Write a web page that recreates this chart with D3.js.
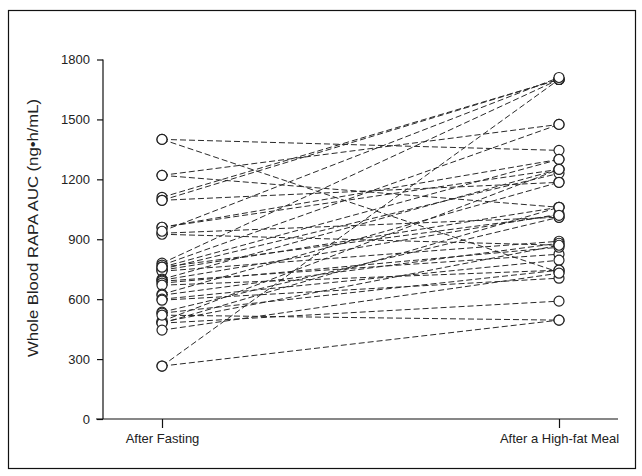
<!DOCTYPE html>
<html>
<head>
<meta charset="utf-8">
<script src="https://cdn.jsdelivr.net/npm/d3@7"></script>
<style>
  body { margin: 0; background: #fff; }
  text { font-family: "Liberation Sans", Arial, sans-serif; fill: #222; }
</style>
</head>
<body>
<div id="chart"></div>
<script>
// categories on the x axis
var categories = ["After Fasting", "After a High-fat Meal"];

// y axis ticks
var yTicks = [0, 300, 600, 900, 1200, 1500, 1800];

// each subject: AUC after fasting and after the high-fat meal (ng*h/mL)
var fasting = [1400, 1400, 1220, 1220, 1110, 1095, 1095, 960, 960, 930,
               925, 780, 770, 760, 750, 745, 740, 700, 695, 690,
               680, 670, 625, 620, 600, 595, 535, 530, 490, 485,
               480, 480, 445, 265, 265, 520, 940, 760];
var highFat = [1345, 735, 1475, 1060, 1700, 1700, 1185, 1300, 1250, 1010,
               870, 1700, 1475, 1300, 1230, 1060, 890, 1250, 1025, 825,
               860, 745, 1185, 880, 795, 705, 1010, 745, 1250, 870,
               1060, 590, 730, 1700, 495, 495, 1710, 1020];

var width = 642, height = 476;

var svg = d3.select("#chart").append("svg")
    .attr("width", width)
    .attr("height", height);

// outer frame around the figure
svg.append("rect")
    .attr("x", 8.5)
    .attr("y", 10.5)
    .attr("width", 627)
    .attr("height", 458)
    .attr("fill", "none")
    .attr("stroke", "#111")
    .attr("stroke-width", 1.2);

var x = d3.scalePoint()
    .domain(categories)
    .range([162, 559]);

var y = d3.scaleLinear()
    .domain([0, 1800])
    .range([419, 59.5]);

// y axis
var yAxis = svg.append("g")
    .attr("transform", "translate(103,0)")
    .call(d3.axisLeft(y).tickValues(yTicks).tickFormat(d3.format("d")).tickSize(6).tickPadding(7));
yAxis.select(".domain").attr("stroke", "#111").attr("stroke-width", 1.2)
    .attr("d", "M0," + y(1800) + "V" + y(0));
yAxis.selectAll(".tick line").attr("stroke", "#111").attr("stroke-width", 1.2);
yAxis.selectAll("text").style("font-size", "13px").attr("fill", "#222");

// x axis, the line runs across the whole plot
svg.append("line")
    .attr("x1", 96).attr("x2", 618)
    .attr("y1", y(0)).attr("y2", y(0))
    .attr("stroke", "#111")
    .attr("stroke-width", 1.2);

var xAxis = svg.append("g")
    .attr("transform", "translate(0," + y(0) + ")")
    .call(d3.axisBottom(x).tickSize(9).tickPadding(6).tickSizeOuter(0));
xAxis.select(".domain").remove();
xAxis.selectAll(".tick line").attr("stroke", "#111").attr("stroke-width", 1.2);
xAxis.selectAll("text").style("font-size", "13px").attr("fill", "#222");

// y axis title, stretched a little like the scanned original
svg.append("text")
    .attr("transform", "translate(38,228) rotate(-90)")
    .attr("text-anchor", "middle")
    .attr("textLength", 258)
    .attr("lengthAdjust", "spacingAndGlyphs")
    .style("font-size", "14px")
    .text("Whole Blood RAPA AUC (ng\u2022h/mL)");

// pairs of values for each subject
var subjects = fasting.map(function(f, i){ return {before: f, after: highFat[i]}; });

svg.append("g").selectAll("line")
    .data(subjects)
    .enter().append("line")
    .attr("x1", x(categories[0]))
    .attr("x2", x(categories[1]))
    .attr("y1", d => y(d.before))
    .attr("y2", d => y(d.after))
    .attr("stroke", "#2a2a2a")
    .attr("stroke-width", 1)
    .attr("stroke-dasharray", "6,3");

// circles at both ends
var pts = [];
subjects.forEach(function(d){
  pts.push({c: categories[0], v: d.before});
  pts.push({c: categories[1], v: d.after});
});

svg.append("g").selectAll("circle")
    .data(pts)
    .enter().append("circle")
    .attr("cx", d => x(d.c))
    .attr("cy", d => y(d.v))
    .attr("r", 5)
    .attr("fill", "#fff")
    .attr("stroke", "#222")
    .attr("stroke-width", 1.2);
</script>
</body>
</html>
